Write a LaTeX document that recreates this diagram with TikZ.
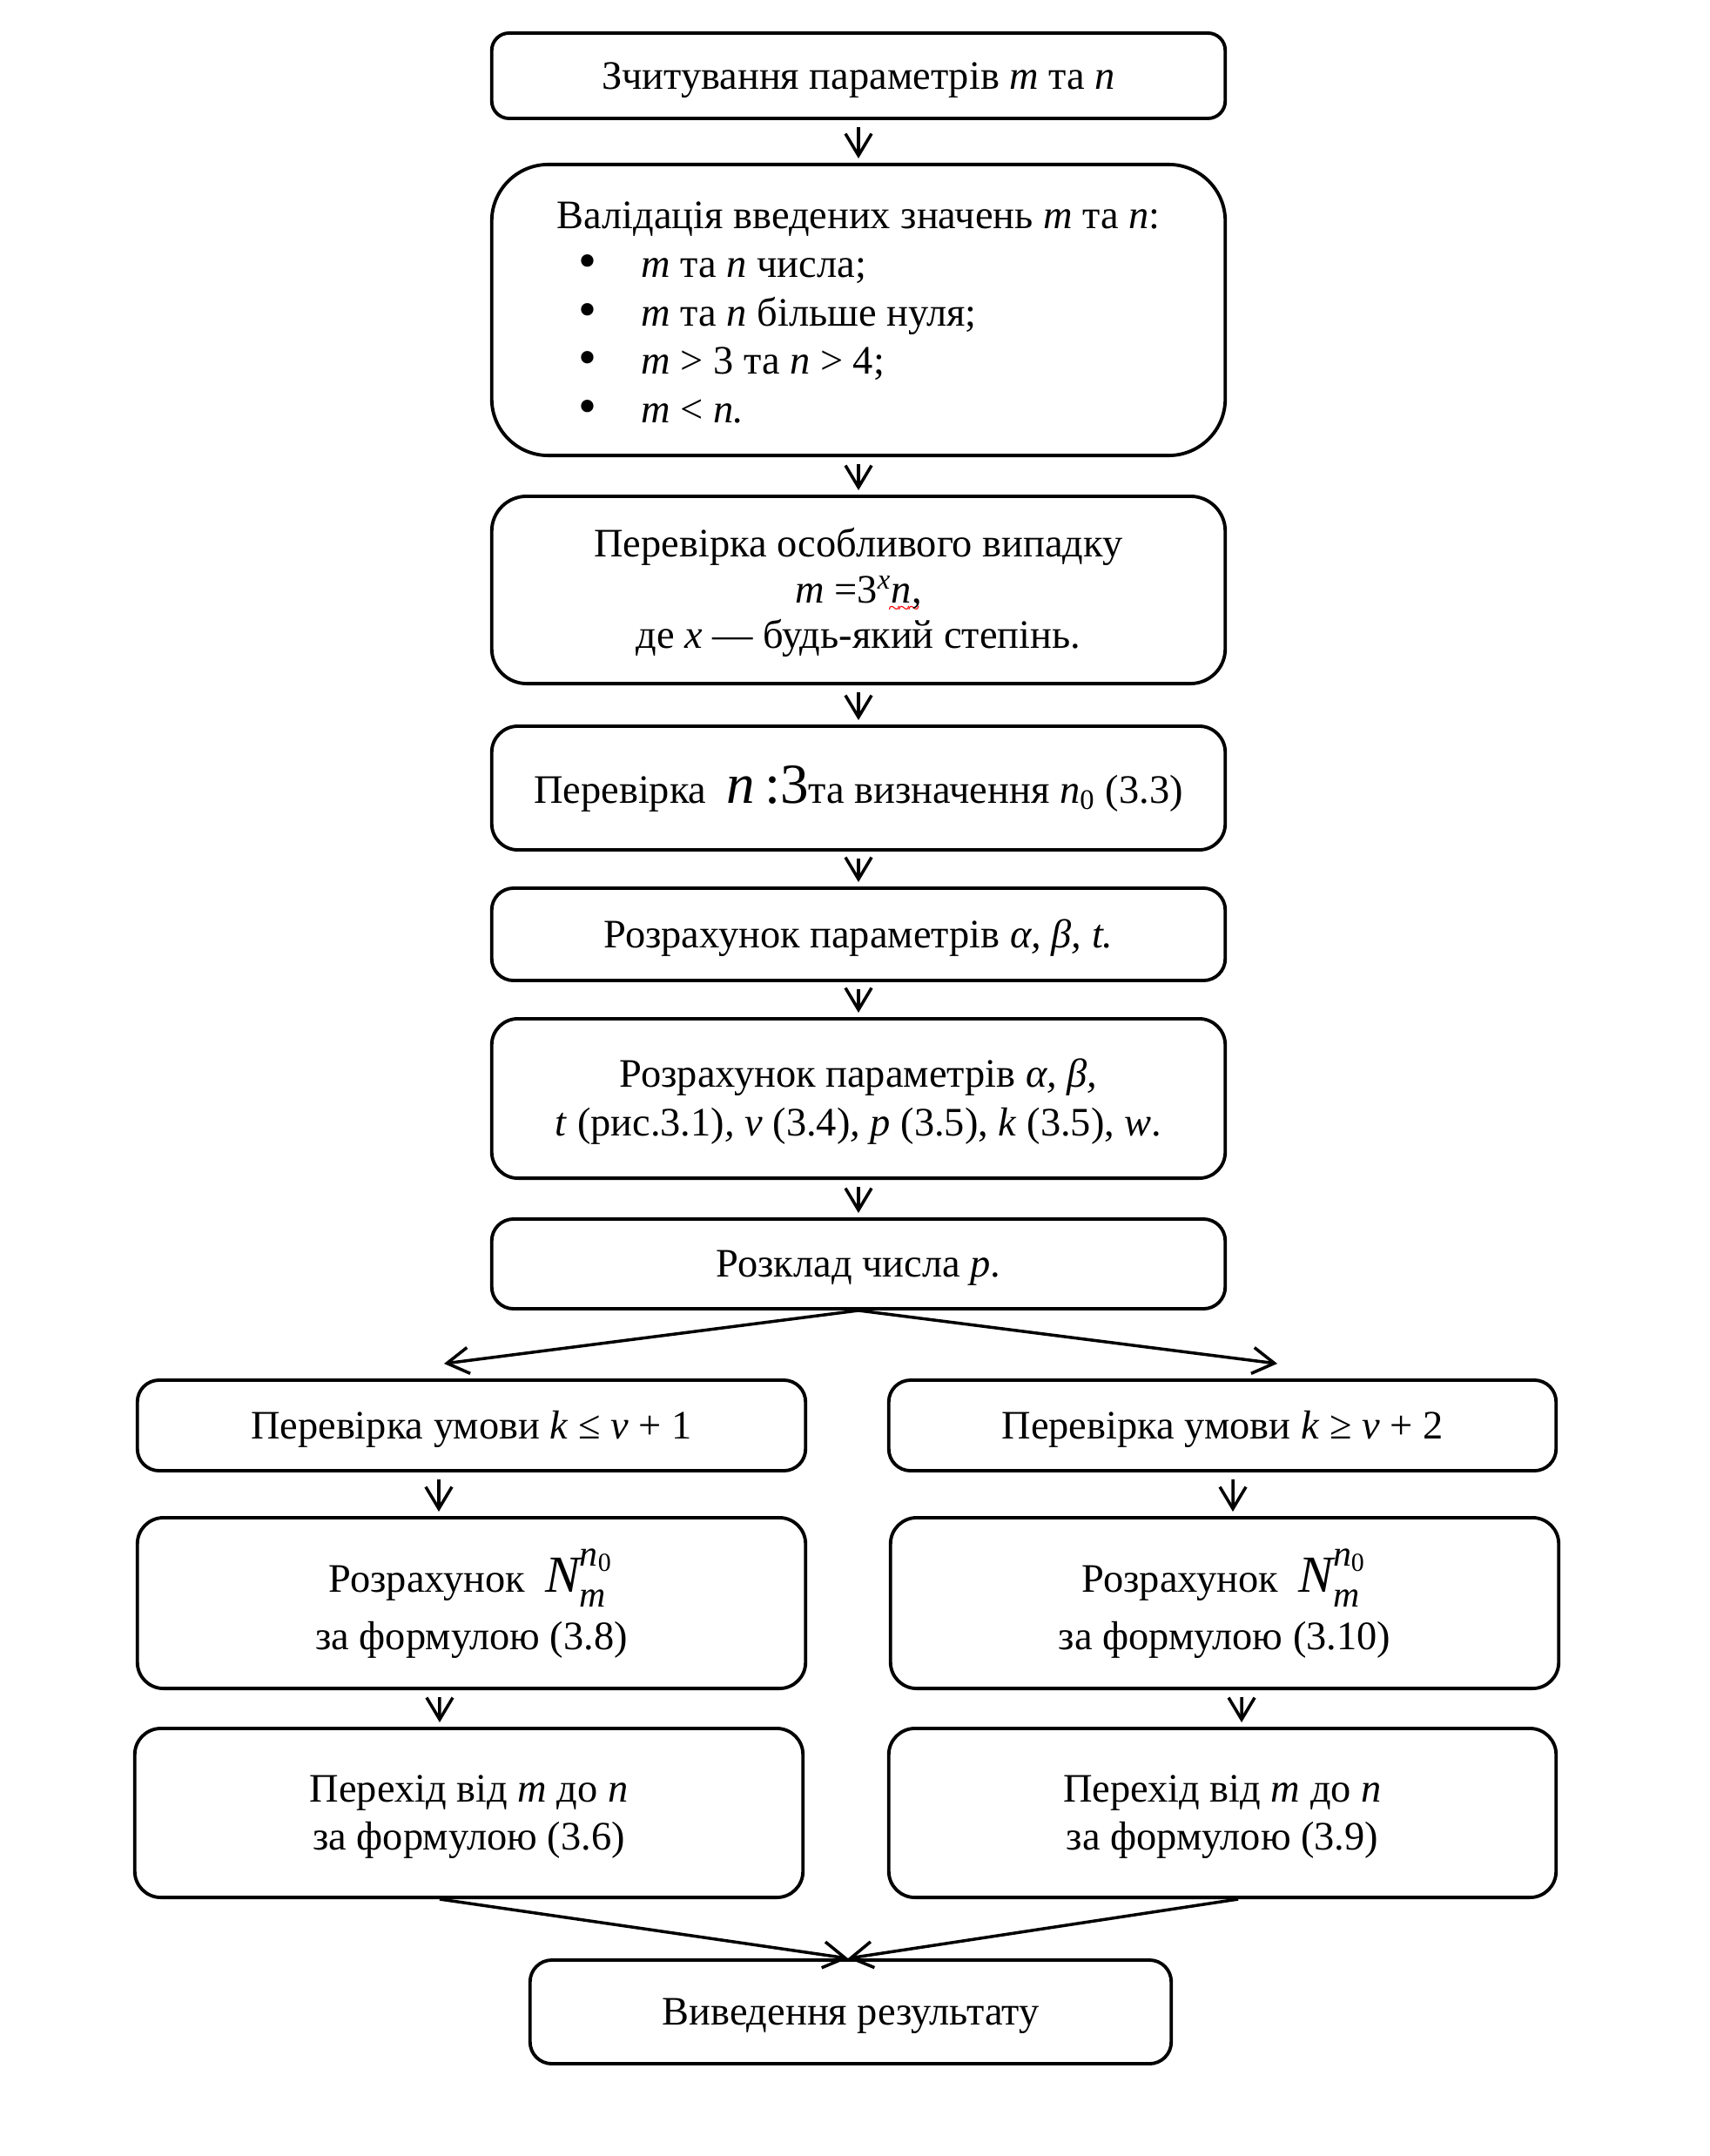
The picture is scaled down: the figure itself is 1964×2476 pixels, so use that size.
\documentclass[tikz,border=0pt]{standalone}
\usepackage{fontspec}
\usepackage{amsmath}
\setmainfont{Liberation Serif}
\usetikzlibrary{arrows.meta}
\newcommand\fs{\fontsize{13.2}{15.8}\selectfont}
\newcommand\tx[2][c]{\raisebox{-0.04cm}[\height][\depth]{\begin{tabular}{@{}#1@{}}#2\end{tabular}}}
\newcommand\wavy[1]{\leavevmode\rlap{\kern-1pt\raisebox{-4.2pt}{\color{red}\fontsize{7}{7}\selectfont\textasciitilde\kern-0.6pt\textasciitilde\kern-0.6pt\textasciitilde}}#1}
\newcommand\bul{\hspace*{0.25cm}\makebox[0.2cm]{\fontsize{17}{13}\selectfont\raisebox{-0.02em}[0.5em][0pt]{•}}\hspace*{0.52cm}}
\newcommand\Nmn{{\fontsize{17}{17}\selectfont$\textit{N}^{\raisebox{2pt}{$\scriptstyle\textit{n}_{\text{0}}$}}_{\raisebox{-0.5pt}{$\scriptstyle\textit{m}$}}$}}
\tikzset{
  box/.style={draw, line width=1.1pt, rounded corners=0.25cm, inner sep=0pt, font=\fs},
  flow/.style={line width=1pt, -{Straight Barb[length=0.25cm,width=0.3cm]}, shorten <=0.08cm, shorten >=0.05cm},
  branch/.style={line width=1pt, -{Straight Barb[length=0.25cm,width=0.3cm]}}
}
\begin{document}
\begin{tikzpicture}[x=0.01cm,y=0.01cm]
\useasboundingbox (0,0) rectangle (1964,-2476);
\fill[white] (0,0) rectangle (1964,-2476);

\node[box, rounded corners=0.2cm, minimum width=8.42cm, minimum height=0.98cm] (b1) at (986,-87)
  {\tx{Зчитування параметрів \textit{m} та \textit{n}}};

\node[box, rounded corners=0.65cm, minimum width=8.42cm, minimum height=3.34cm] (b2) at (986,-356)
  {\raisebox{-0.03cm}[\height][\depth]{\tx[l]{Валідація введених значень \textit{m} та \textit{n}:\\
   \bul\textit{m} та \textit{n} числа;\\
   \bul\textit{m} та \textit{n} більше нуля;\\
   \bul\textit{m} > 3 та \textit{n} > 4;\\
   \bul\textit{m} < \textit{n.}}}};

\node[box, rounded corners=0.4cm, minimum width=8.42cm, minimum height=2.15cm, font=\fontsize{13.2}{15}\selectfont] (b3) at (986,-677.5)
  {\tx{Перевірка особливого випадку\\
   \textit{m} =3\textsuperscript{\textit{x}}\wavy{\textit{n},}\\
   де \textit{x} — будь-який степінь.}};

\node[box, rounded corners=0.3cm, minimum width=8.42cm, minimum height=1.42cm] (b4) at (986,-905)
  {\tx{Перевірка\ \ {\fontsize{18.5}{18.5}\selectfont\textit{n}\,:3}та визначення \textit{n}\textsubscript{0} (3.3)}};

\node[box, rounded corners=0.25cm, minimum width=8.42cm, minimum height=1.06cm] (b5) at (986,-1073)
  {\tx{Розрахунок параметрів \textit{α, β, t.}}};

\node[box, rounded corners=0.3cm, minimum width=8.42cm, minimum height=1.83cm] (b6) at (986,-1261.5)
  {\tx{Розрахунок параметрів \textit{α, β,}\\
   \textit{t} (рис.3.1)\textit{, v} (3.4)\textit{, p} (3.5), \textit{k} (3.5), \textit{w}.}};

\node[box, rounded corners=0.25cm, minimum width=8.42cm, minimum height=1.03cm] (b7) at (986,-1451.5)
  {\tx{Розклад числа \textit{p}.}};

\node[box, rounded corners=0.25cm, minimum width=7.67cm, minimum height=1.04cm] (l8) at (541.5,-1637)
  {\tx{Перевірка умови \textit{k} ≤ \textit{v} + 1}};
\node[box, rounded corners=0.25cm, minimum width=7.66cm, minimum height=1.04cm] (r8) at (1404,-1637)
  {\tx{Перевірка умови \textit{k} ≥ \textit{v} + 2}};

\node[box, rounded corners=0.3cm, minimum width=7.67cm, minimum height=1.96cm] (l9) at (541.5,-1841)
  {\tx{Розрахунок\ \ \Nmn\\[3pt]
   за формулою (3.8)}};
\node[box, rounded corners=0.3cm, minimum width=7.67cm, minimum height=1.96cm] (r9) at (1406.5,-1841)
  {\tx{Розрахунок\ \ \Nmn\\[3pt]
   за формулою (3.10)}};

\node[box, rounded corners=0.3cm, minimum width=7.67cm, minimum height=1.94cm] (l10) at (538.5,-2082)
  {\tx{Перехід від \textit{m} до \textit{n}\\
   за формулою (3.6)}};
\node[box, rounded corners=0.3cm, minimum width=7.66cm, minimum height=1.94cm] (r10) at (1404,-2082)
  {\tx{Перехід від \textit{m} до \textit{n}\\
   за формулою (3.9)}};

\node[box, rounded corners=0.25cm, minimum width=7.36cm, minimum height=1.19cm] (fin) at (977,-2310.5)
  {\tx{Виведення результату}};

\draw[flow] (b1) -- (b2);
\draw[flow] (b2) -- (b3);
\draw[flow] (b3) -- (b4);
\draw[flow] (b4) -- (b5);
\draw[flow] (b5) -- (b6);
\draw[flow] (b6) -- (b7);

\coordinate (lt) at ([xshift=-0.315cm,yshift=0.17cm]l8.north);
\coordinate (rt) at ([xshift=0.63cm,yshift=0.17cm]r8.north);
\draw[branch] (b7.south) -- (lt);
\draw[branch] (b7.south) -- (rt);

\draw[flow] ([xshift=-0.375cm]l8.south) -- ([xshift=-0.375cm]l9.north);
\draw[flow] ([xshift=0.12cm]r8.south) -- ([xshift=0.095cm]r9.north);
\draw[flow] ([xshift=-0.365cm]l9.south) -- ([xshift=-0.335cm]l10.north);
\draw[flow] ([xshift=0.195cm]r9.south) -- ([xshift=0.22cm]r10.north);

\draw[branch] ([xshift=-0.335cm]l10.south) -- ([xshift=-0.03cm]fin.north);
\draw[branch] ([xshift=0.18cm]r10.south) -- ([xshift=-0.03cm]fin.north);
\end{tikzpicture}
\end{document}
